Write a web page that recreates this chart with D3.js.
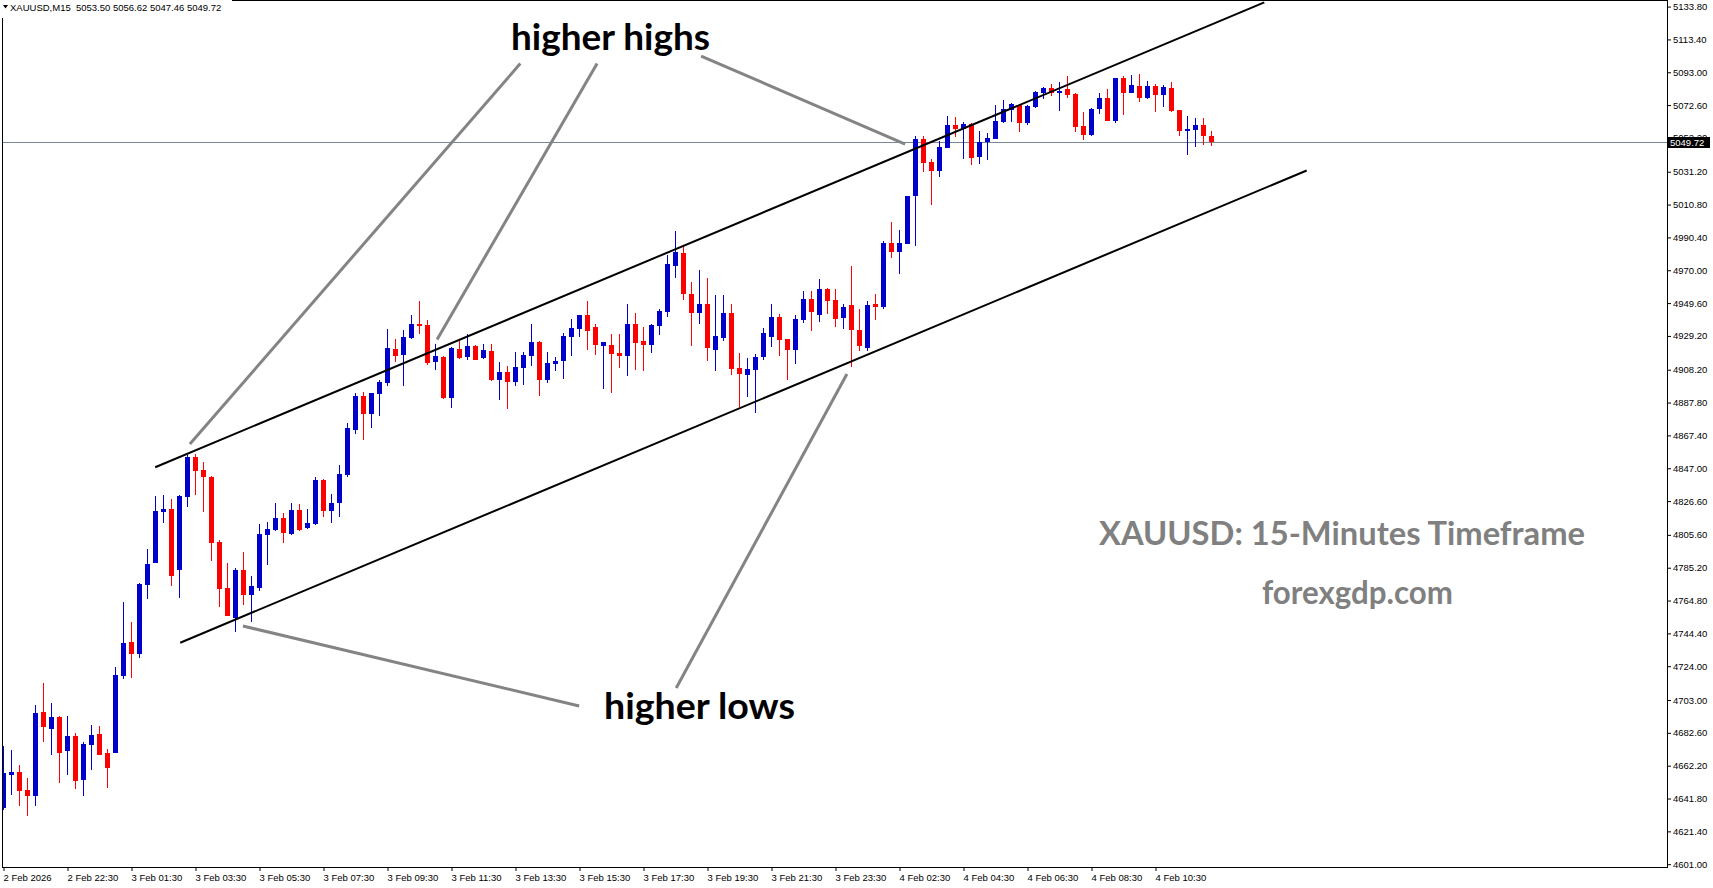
<!DOCTYPE html>
<html>
<head>
<meta charset="utf-8">
<script src="https://cdn.jsdelivr.net/npm/d3@7/dist/d3.min.js"></script>
<style>
	body { margin: 0; background: #fff; }
	svg { display: block; }
</style>
</head>
<body>
<svg id="chart"></svg>
<script>
// XAUUSD M15 bars (oldest first)
const opens = [
	4636.1, 4656.4, 4658.3, 4647.1, 4643.5, 4695.5, 4685.0, 4692.4, 4671.5, 4680.6,
	4653.5, 4675.2, 4681.9, 4670.1, 4670.2, 4718.1, 4739.0, 4731.8, 4774.6, 4788.3,
	4820.0, 4821.7, 4784.0, 4829.3, 4854.0, 4845.9, 4841.5, 4801.1, 4772.6, 4753.9,
	4783.8, 4768.4, 4772.8, 4805.7, 4808.6, 4816.1, 4806.1, 4821.0, 4809.9, 4812.3,
	4839.7, 4820.6, 4825.2, 4843.0, 4870.7, 4891.9, 4880.9, 4893.3, 4900.1, 4920.9,
	4917.3, 4927.9, 4936.6, 4936.0, 4913.0, 4916.1, 4890.6, 4921.1, 4916.1, 4922.9,
	4915.5, 4919.8, 4901.8, 4906.8, 4900.6, 4909.3, 4916.7, 4925.4, 4901.8, 4911.9,
	4913.6, 4928.5, 4933.5, 4942.2, 4934.7, 4922.9, 4923.6, 4918.6, 4916.7, 4936.6,
	4926.0, 4923.6, 4935.5, 4944.2, 4972.8, 4980.9, 4955.4, 4943.6, 4949.2, 4920.6,
	4927.9, 4943.6, 4909.5, 4904.9, 4908.2, 4916.1, 4928.5, 4941.0, 4927.3, 4920.6,
	4939.1, 4952.1, 4942.4, 4958.3, 4951.3, 4940.5, 4948.4, 4933.1, 4921.9, 4949.2,
	4947.4, 4986.9, 4981.5, 4986.5, 5016.1, 5051.5, 5037.1, 5031.9, 5046.1, 5060.2,
	5057.7, 5060.9, 5040.5, 5049.5, 5051.7, 5062.3, 5069.7, 5072.8, 5061.7, 5071.6,
	5080.3, 5083.2, 5080.3, 5082.6, 5079.5, 5059.6, 5054.2, 5070.2, 5077.0, 5062.7,
	5089.4, 5080.3, 5084.5, 5077.2, 5084.5, 5079.1, 5083.2, 5069.6, 5056.7, 5057.3,
	5060.2, 5053.50
];
const highs = [
	4674.4, 4671.9, 4662.6, 4654.5, 4699.9, 4713.6, 4701.1, 4693.0, 4693.1, 4682.5,
	4677.1, 4687.5, 4686.8, 4672.5, 4723.7, 4763.9, 4751.5, 4775.7, 4796.8, 4829.7,
	4830.4, 4827.9, 4830.4, 4855.2, 4855.8, 4850.9, 4842.1, 4802.4, 4788.1, 4785.0,
	4794.9, 4780.0, 4812.3, 4813.6, 4825.4, 4819.2, 4825.4, 4824.8, 4821.7, 4841.7,
	4840.3, 4831.0, 4849.0, 4875.1, 4893.9, 4894.3, 4894.0, 4901.8, 4933.5, 4927.3,
	4932.9, 4942.2, 4950.9, 4939.1, 4924.2, 4916.7, 4922.3, 4926.7, 4930.4, 4923.5,
	4924.2, 4924.2, 4913.0, 4910.5, 4919.2, 4919.2, 4936.6, 4926.0, 4919.2, 4916.1,
	4931.0, 4939.7, 4942.5, 4950.9, 4936.6, 4925.6, 4930.4, 4930.4, 4949.2, 4943.6,
	4934.7, 4936.3, 4945.9, 4979.5, 4994.4, 4984.6, 4962.7, 4970.2, 4965.4, 4954.6,
	4954.6, 4949.2, 4918.8, 4915.7, 4917.9, 4934.1, 4949.2, 4942.6, 4927.5, 4942.0,
	4957.1, 4957.1, 4964.5, 4958.9, 4958.3, 4949.2, 4972.8, 4946.1, 4950.9, 4955.2,
	4988.2, 5000.0, 4995.0, 5016.4, 5053.6, 5053.4, 5039.1, 5050.3, 5065.8, 5065.2,
	5062.3, 5061.3, 5056.5, 5055.3, 5072.7, 5075.8, 5074.1, 5073.5, 5072.7, 5081.4,
	5083.8, 5085.9, 5087.0, 5090.9, 5079.9, 5068.3, 5070.8, 5080.1, 5082.6, 5089.6,
	5090.7, 5091.3, 5091.9, 5087.6, 5085.7, 5085.1, 5087.0, 5069.8, 5065.8, 5064.6,
	5064.6, 5056.62
];
const lows = [
	4634.6, 4644.0, 4637.1, 4630.9, 4637.1, 4676.9, 4668.8, 4651.4, 4656.4, 4647.7,
	4643.5, 4659.5, 4668.8, 4648.5, 4670.0, 4716.0, 4716.8, 4729.3, 4765.9, 4788.0,
	4813.2, 4774.0, 4766.6, 4823.1, 4830.4, 4820.0, 4789.5, 4761.0, 4755.2, 4745.4,
	4762.2, 4751.6, 4770.9, 4787.1, 4808.0, 4800.7, 4805.5, 4808.2, 4809.1, 4811.7,
	4816.9, 4813.2, 4816.9, 4841.7, 4868.3, 4864.5, 4872.2, 4879.6, 4898.1, 4913.0,
	4898.1, 4927.3, 4930.4, 4911.3, 4908.0, 4890.2, 4884.6, 4914.9, 4914.2, 4914.0,
	4914.9, 4901.4, 4889.4, 4883.8, 4898.1, 4898.7, 4910.5, 4891.9, 4900.1, 4907.4,
	4902.4, 4916.7, 4928.5, 4920.4, 4917.3, 4896.2, 4893.7, 4909.3, 4904.3, 4908.0,
	4907.4, 4918.6, 4929.8, 4941.1, 4965.4, 4951.5, 4922.9, 4936.6, 4913.8, 4907.6,
	4926.2, 4904.9, 4884.8, 4891.4, 4881.1, 4914.2, 4922.3, 4916.9, 4902.0, 4911.9,
	4937.4, 4932.4, 4938.0, 4943.0, 4934.7, 4933.7, 4910.1, 4920.0, 4920.0, 4939.3,
	4946.2, 4977.8, 4967.9, 4986.3, 4985.2, 5031.2, 5010.7, 5028.1, 5046.0, 5052.8,
	5039.1, 5035.6, 5036.2, 5038.7, 5051.5, 5061.7, 5062.1, 5055.9, 5060.4, 5071.0,
	5076.6, 5078.4, 5069.1, 5077.2, 5056.1, 5051.1, 5053.6, 5067.3, 5062.7, 5061.7,
	5066.4, 5080.1, 5074.7, 5076.6, 5068.5, 5071.6, 5068.3, 5053.6, 5041.8, 5046.8,
	5048.0, 5047.46
];
const closes = [
	4657.8, 4658.3, 4646.6, 4643.5, 4694.9, 4686.2, 4692.4, 4670.1, 4680.6, 4652.9,
	4675.7, 4681.2, 4669.0, 4660.9, 4718.5, 4738.4, 4731.8, 4775.1, 4787.5, 4820.4,
	4821.5, 4780.2, 4829.7, 4854.0, 4845.5, 4841.7, 4800.7, 4772.1, 4755.4, 4783.8,
	4768.4, 4773.8, 4806.1, 4809.2, 4816.1, 4806.6, 4821.0, 4808.6, 4813.0, 4839.7,
	4820.6, 4825.6, 4843.4, 4872.0, 4891.9, 4880.9, 4893.7, 4900.6, 4921.7, 4916.9,
	4928.5, 4936.6, 4935.5, 4912.4, 4916.7, 4890.6, 4921.7, 4915.5, 4922.9, 4914.2,
	4920.4, 4901.8, 4906.8, 4900.6, 4909.9, 4917.3, 4925.4, 4901.8, 4912.4, 4913.6,
	4929.1, 4934.1, 4942.2, 4932.3, 4923.6, 4925.4, 4917.9, 4916.7, 4936.6, 4924.8,
	4923.6, 4936.0, 4944.7, 4973.7, 4981.5, 4955.4, 4943.6, 4949.2, 4921.7, 4929.1,
	4943.6, 4908.8, 4905.5, 4908.8, 4916.1, 4931.0, 4941.0, 4926.9, 4920.6, 4939.7,
	4952.1, 4944.2, 4958.3, 4951.1, 4939.9, 4947.2, 4933.1, 4923.1, 4948.4, 4947.4,
	4986.9, 4981.5, 4986.9, 5016.1, 5051.5, 5036.8, 5031.9, 5046.6, 5060.2, 5057.7,
	5060.9, 5039.9, 5049.7, 5052.2, 5062.7, 5070.2, 5073.5, 5061.7, 5072.0, 5080.7,
	5083.2, 5080.3, 5081.4, 5079.1, 5059.2, 5054.2, 5070.2, 5077.0, 5062.9, 5089.4,
	5080.3, 5085.1, 5077.2, 5084.5, 5079.1, 5083.8, 5069.1, 5056.7, 5057.6, 5060.2,
	5053.4, 5049.72
];

// time axis: bar index of each label and its text
const timeTicks = [0, 8, 16, 24, 32, 40, 48, 56, 64, 72, 80, 88, 96, 104, 112, 120, 128, 136, 144];
const timeLabels = ['2 Feb 2026', '2 Feb 22:30', '3 Feb 01:30', '3 Feb 03:30', '3 Feb 05:30',
	'3 Feb 07:30', '3 Feb 09:30', '3 Feb 11:30', '3 Feb 13:30', '3 Feb 15:30', '3 Feb 17:30',
	'3 Feb 19:30', '3 Feb 21:30', '3 Feb 23:30', '4 Feb 02:30', '4 Feb 04:30', '4 Feb 06:30',
	'4 Feb 08:30', '4 Feb 10:30'];

// price axis labels
const priceTicks = [5133.80, 5113.40, 5093.00, 5072.60, 5052.20, 5031.20, 5010.80, 4990.40,
	4970.00, 4949.60, 4929.20, 4908.20, 4887.80, 4867.40, 4847.00, 4826.60, 4805.60, 4785.20,
	4764.80, 4744.40, 4724.00, 4703.00, 4682.60, 4662.20, 4641.80, 4621.40, 4601.00];

const symbolName = 'XAUUSD,M15';
const bidPrice = 5049.72;

// channel lines, [bar, price] at each end
const upperChannel = [[18.96, 4847.6], [157.6, 5136.4]];
const lowerChannel = [[22.09, 4738.6], [162.9, 5032.0]];

// gray pointer lines from the labels to the swing points, [bar, price]
const highPointers = [
	[[64.6, 5098.4], [23.3, 4862.0]],
	[[74.2, 5098.5], [54.2, 4927.0]],
	[[87.2, 5103.1], [112.7, 5048.4]]
];
const lowPointers = [
	[[71.96, 4699.3], [29.93, 4749.0]],
	[[84.09, 4710.5], [105.43, 4905.5]]
];

let w = 1713, h = 888;
let plotLeft = 2, plotRight = 1667, plotTop = 1, plotBottom = 867;
let bullColor = '#0000cc', bearColor = '#ff0000';
let axisFont = "'Liberation Sans', Arial, sans-serif";
let noteFont = "Lato, 'Open Sans', sans-serif";

let svg = d3.select('#chart')
	.attr('width', w)
	.attr('height', h);

svg.append('rect')
	.attr('width', w)
	.attr('height', h)
	.attr('fill', '#fff');

// bar index -> pixel, 8px per bar
let xScale = d3.scaleLinear()
	.domain([0, 151])
	.range([3.5, 1211.5]);

let yScale = d3.scaleLinear()
	.domain([4601.0, 5133.8])
	.range([864.2, 6.6]);

svg.append('clipPath')
	.attr('id', 'plotClip')
	.append('rect')
	.attr('x', plotLeft)
	.attr('y', plotTop)
	.attr('width', plotRight - plotLeft)
	.attr('height', plotBottom - plotTop);

let plot = svg.append('g').attr('clip-path', 'url(#plotClip)');

// bid line
plot.append('line')
	.attr('x1', plotLeft)
	.attr('x2', plotRight)
	.attr('y1', Math.round(yScale(bidPrice)) + 0.5)
	.attr('y2', Math.round(yScale(bidPrice)) + 0.5)
	.attr('stroke', '#778899')
	.attr('stroke-width', 1);

let candles = opens.map((o, i) => ({ i: i, o: o, h: highs[i], l: lows[i], c: closes[i] }));
let colorOf = (d) => d.c >= d.o ? bullColor : bearColor;

plot.selectAll('.wick')
	.data(candles)
	.enter()
	.append('rect')
	.attr('class', 'wick')
	.attr('shape-rendering', 'crispEdges')
	.attr('x', (d) => Math.floor(xScale(d.i)))
	.attr('y', (d) => Math.round(yScale(d.h)))
	.attr('width', 1)
	.attr('height', (d) => Math.max(1, Math.round(yScale(d.l)) - Math.round(yScale(d.h))))
	.attr('fill', colorOf);

plot.selectAll('.body')
	.data(candles)
	.enter()
	.append('rect')
	.attr('class', 'body')
	.attr('shape-rendering', 'crispEdges')
	.attr('x', (d) => Math.floor(xScale(d.i)) - 2)
	.attr('y', (d) => Math.round(yScale(Math.max(d.o, d.c))))
	.attr('width', 5)
	.attr('height', (d) => Math.max(1, Math.round(yScale(Math.min(d.o, d.c))) - Math.round(yScale(Math.max(d.o, d.c)))))
	.attr('fill', colorOf);

// trend channel
let lineGen = d3.line()
	.x((p) => xScale(p[0]))
	.y((p) => yScale(p[1]));

plot.selectAll('.channel')
	.data([upperChannel, lowerChannel])
	.enter()
	.append('path')
	.attr('class', 'channel')
	.attr('d', lineGen)
	.attr('stroke', '#000')
	.attr('stroke-width', 2)
	.attr('fill', 'none');

plot.selectAll('.pointer')
	.data(highPointers.concat(lowPointers))
	.enter()
	.append('path')
	.attr('class', 'pointer')
	.attr('d', lineGen)
	.attr('stroke', '#848484')
	.attr('stroke-width', 3)
	.attr('fill', 'none');

// labels on the chart
let notes = [
	{ text: 'higher highs', x: 511, y: 50, size: 37, len: 199, color: '#000' },
	{ text: 'higher lows', x: 604, y: 719, size: 37, len: 191, color: '#000' },
	{ text: 'XAUUSD: 15-Minutes Timeframe', x: 1099, y: 545, size: 32, len: 486, color: '#808080' },
	{ text: 'forexgdp.com', x: 1262, y: 604, size: 32, len: 191, color: '#808080' }
];

svg.selectAll('.note')
	.data(notes)
	.enter()
	.append('text')
	.attr('class', 'note')
	.attr('x', (d) => d.x)
	.attr('y', (d) => d.y)
	.attr('font-family', noteFont)
	.attr('font-weight', 700)
	.attr('font-size', (d) => d.size)
	.attr('textLength', (d) => d.len)
	.attr('lengthAdjust', 'spacingAndGlyphs')
	.attr('fill', (d) => d.color)
	.text((d) => d.text);

// frame
svg.append('rect')
	.attr('x', plotLeft + 0.5)
	.attr('y', plotTop - 0.5)
	.attr('width', plotRight - plotLeft)
	.attr('height', plotBottom - plotTop + 1)
	.attr('fill', 'none')
	.attr('stroke', '#000')
	.attr('stroke-width', 1);

// AXES
let yAxis = d3.axisRight(yScale)
	.tickValues(priceTicks)
	.tickSize(4)
	.tickPadding(2)
	.tickFormat(d3.format('.2f'));

let yAxisGroup = svg.append('g')
	.attr('transform', `translate(${plotRight},0)`)
	.call(yAxis)
	.attr('font-family', axisFont)
	.attr('font-size', 9.5);
yAxisGroup.select('.domain').remove();
yAxisGroup.selectAll('.tick text').attr('fill', '#000');

let xAxis = d3.axisBottom(xScale)
	.tickValues(timeTicks)
	.tickSize(4)
	.tickPadding(3)
	.tickFormat((d, i) => timeLabels[i]);

let xAxisGroup = svg.append('g')
	.attr('transform', `translate(0,${plotBottom})`)
	.call(xAxis)
	.attr('font-family', axisFont)
	.attr('font-size', 9.5);
xAxisGroup.select('.domain').remove();
xAxisGroup.selectAll('.tick text')
	.attr('text-anchor', 'start')
	.attr('x', -0.5)
	.attr('fill', '#000');

// bid price box over the axis
let bidY = Math.round(yScale(bidPrice));
svg.append('rect')
	.attr('x', plotRight + 1)
	.attr('y', bidY - 5)
	.attr('width', 42)
	.attr('height', 11)
	.attr('fill', '#000');

svg.append('text')
	.attr('x', plotRight + 3)
	.attr('y', bidY + 4)
	.attr('font-family', axisFont)
	.attr('font-size', 9.5)
	.attr('fill', '#fff')
	.text(d3.format('.2f')(bidPrice));

// header: symbol and last bar OHLC
let last = opens.length - 1;
svg.append('rect')
	.attr('x', 0)
	.attr('y', 0)
	.attr('width', 232)
	.attr('height', 18)
	.attr('fill', '#fff');

svg.append('path')
	.attr('d', 'M3,5H8L5.5,8.5Z')
	.attr('fill', '#000');

svg.append('text')
	.attr('x', 10)
	.attr('y', 11)
	.attr('font-family', axisFont)
	.attr('font-size', 9.5)
	.attr('fill', '#000')
	.attr('xml:space', 'preserve')
	.text(symbolName + '  ' + [opens[last], highs[last], lows[last], closes[last]].map(d3.format('.2f')).join(' '));
</script>
</body>
</html>
